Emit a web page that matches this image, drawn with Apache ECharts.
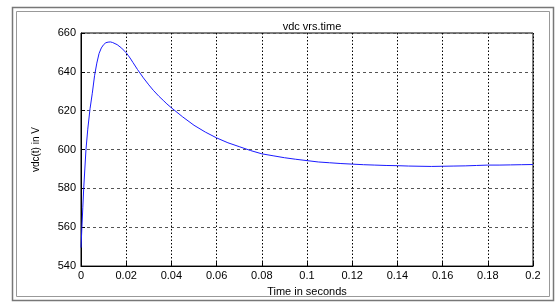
<!DOCTYPE html>
<html>
<head>
<meta charset="utf-8">
<script src="https://cdn.jsdelivr.net/npm/echarts@6/dist/echarts.min.js"></script>
<style>
  html, body { margin: 0; padding: 0; background: #fff; }
  #main { width: 556px; height: 302px; }
</style>
</head>
<body>
<div id="main"></div>
<script>
// vdc vs time
var times = [0, 0.0004, 0.0008, 0.0012, 0.0017, 0.0022, 0.003, 0.004, 0.005, 0.006,
  0.007, 0.008, 0.009, 0.010, 0.011, 0.012, 0.013, 0.014, 0.016, 0.018,
  0.020, 0.021, 0.022, 0.023, 0.024, 0.025, 0.0276, 0.030, 0.032, 0.0345,
  0.0364, 0.038, 0.040, 0.045, 0.050, 0.055, 0.060, 0.065, 0.070, 0.075,
  0.080, 0.085, 0.090, 0.095, 0.100, 0.105, 0.110, 0.115, 0.120, 0.125,
  0.130, 0.135, 0.140, 0.145, 0.150, 0.155, 0.160, 0.165, 0.170, 0.175,
  0.180, 0.185, 0.190, 0.195, 0.200];
var vdc = [549.5, 560, 570, 580, 590, 600, 610.5, 621, 629, 638,
  644.5, 649.5, 652.3, 654, 655, 655.3, 655.4, 655.1, 654, 652.2,
  649.8, 648.3, 646.6, 644.8, 643, 641.2, 636.9, 633.3, 630.5, 627.4,
  625.3, 623.5, 621.5, 616.8, 612.5, 609, 606, 603.5, 601.5, 599.5,
  597.8, 596.8, 595.8, 595, 594.3, 593.6, 593.2, 592.8, 592.5, 592.2,
  592, 591.8, 591.7, 591.5, 591.4, 591.3, 591.4, 591.5, 591.6, 591.8,
  592, 592, 592.1, 592.2, 592.3];
var xTicks = [0, 0.02, 0.04, 0.06, 0.08, 0.1, 0.12, 0.14, 0.16, 0.18, 0.2];
var yTicks = [540, 560, 580, 600, 620, 640, 660];

var myChart = echarts.init(document.getElementById('main'));
var font = 'Liberation Sans';

var option = {
  backgroundColor: '#fff',
  animation: false,
  title: {
    text: 'vdc vrs.time',
    left: 307, top: 16,
    textAlign: 'center',
    textStyle: { fontFamily: font, fontSize: 11, fontWeight: 'normal', color: '#000' }
  },
  graphic: [
    { type: 'rect', shape: { x: 12.5, y: 7.5, width: 541, height: 293 },
      style: { fill: 'none', stroke: '#777', lineWidth: 1.5 }, silent: true },
    { type: 'rect', shape: { x: 16.5, y: 11.5, width: 533, height: 285 },
      style: { fill: 'none', stroke: '#999', lineWidth: 1 }, silent: true }
  ],
  grid: {
    left: 81, right: 23, top: 33, bottom: 31,
    show: true, borderColor: '#000', borderWidth: 1
  },
  xAxis: {
    type: 'value', min: 0, max: 0.2, interval: 0.02,
    name: 'Time in seconds', nameLocation: 'middle', nameGap: 15,
    nameTextStyle: { fontFamily: font, fontSize: 11, color: '#000' },
    axisLine: { lineStyle: { color: '#000' } },
    axisTick: { inside: true, length: 4, lineStyle: { color: '#000' } },
    axisLabel: {
      fontFamily: font, fontSize: 11, color: '#000', margin: 4,
      formatter: function (v) {
        for (var i = 0; i < xTicks.length; i++) {
          if (Math.abs(xTicks[i] - v) < 1e-9) return String(xTicks[i]);
        }
        return '';
      }
    },
    splitLine: { show: true, lineStyle: { color: '#000', type: [1.5, 2], width: 1 } }
  },
  yAxis: {
    type: 'value', min: 540, max: 660, interval: 20,
    name: 'vdc(t) in V', nameLocation: 'middle', nameGap: 40,
    nameTextStyle: { fontFamily: font, fontSize: 10, color: '#000' },
    axisLine: { show: true, lineStyle: { color: '#000' } },
    axisTick: { show: true, inside: true, length: 4, lineStyle: { color: '#000' } },
    axisLabel: {
      fontFamily: font, fontSize: 11, color: '#000', margin: 5,
      formatter: function (v) { return yTicks.indexOf(v) >= 0 ? String(v) : ''; }
    },
    splitLine: { show: true, lineStyle: { color: '#555', type: [3, 3], width: 1 } }
  },
  series: [{
    type: 'line',
    data: times.map(function (t, i) { return [t, vdc[i]]; }),
    showSymbol: false,
    lineStyle: { color: '#1a1aff', width: 1 },
    itemStyle: { color: '#1a1aff' }
  }]
};

myChart.setOption(option);
</script>
</body>
</html>
